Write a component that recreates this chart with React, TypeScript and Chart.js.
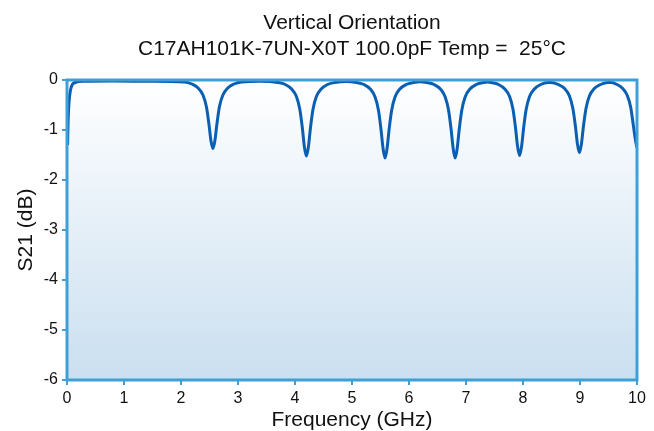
import React, { useEffect, useRef } from "react";
import { Chart, registerables } from "chart.js";

Chart.register(...registerables);

const TITLE_LINES = ["Vertical Orientation", "C17AH101K-7UN-X0T 100.0pF Temp =  25°C"];
const X_TITLE = "Frequency (GHz)";
const Y_TITLE = "S21 (dB)";
const X_TICKS = [0, 1, 2, 3, 4, 5, 6, 7, 8, 9, 10];
const Y_TICKS = [-6, -5, -4, -3, -2, -1, 0];

const freqGHz = [
  0.01, 0.02, 0.035, 0.07, 0.14, 0.3, 0.8, 1.4,
  2.06, 2.19, 2.3, 2.385, 2.445, 2.49, 2.525, 2.56, 2.595, 2.63, 2.675, 2.735, 2.82, 2.93, 3.06,
  3.4,
  3.7, 3.83, 3.94, 4.025, 4.085, 4.13, 4.165, 4.2, 4.235, 4.27, 4.315, 4.375, 4.46, 4.57, 4.7,
  4.9,
  5.08, 5.21, 5.32, 5.405, 5.465, 5.51, 5.545, 5.58, 5.615, 5.65, 5.695, 5.755, 5.84, 5.95, 6.08,
  6.2,
  6.31, 6.44, 6.55, 6.635, 6.695, 6.74, 6.775, 6.81, 6.845, 6.88, 6.925, 6.985, 7.07, 7.18, 7.31,
  7.38,
  7.44, 7.57, 7.68, 7.765, 7.825, 7.87, 7.905, 7.94, 7.975, 8.01, 8.055, 8.115, 8.2, 8.31, 8.44,
  8.49, 8.62, 8.73, 8.815, 8.875, 8.92, 8.955, 8.99, 9.025, 9.06, 9.105, 9.165, 9.25, 9.36, 9.49,
  9.55, 9.65, 9.75, 9.83, 9.89, 9.935, 9.97, 10.0,
];

const s21dB = [
  -1.3, -0.8, -0.45, -0.16, -0.05, -0.025, -0.02, -0.025,
  -0.04, -0.08, -0.16, -0.3, -0.53, -0.88, -1.21, -1.37, -1.21, -0.88, -0.53, -0.3, -0.16, -0.08, -0.04,
  -0.025,
  -0.05, -0.09, -0.18, -0.33, -0.59, -0.97, -1.34, -1.52, -1.34, -0.97, -0.59, -0.33, -0.18, -0.09, -0.05,
  -0.03,
  -0.05, -0.09, -0.18, -0.34, -0.61, -1.0, -1.37, -1.56, -1.37, -1.0, -0.61, -0.34, -0.18, -0.09, -0.05,
  -0.035,
  -0.05, -0.09, -0.18, -0.34, -0.61, -1.0, -1.37, -1.56, -1.37, -1.0, -0.61, -0.34, -0.18, -0.09, -0.05,
  -0.04,
  -0.05, -0.09, -0.18, -0.33, -0.59, -0.97, -1.33, -1.51, -1.33, -0.97, -0.59, -0.33, -0.18, -0.09, -0.05,
  -0.05, -0.09, -0.17, -0.32, -0.57, -0.93, -1.28, -1.45, -1.28, -0.93, -0.57, -0.32, -0.17, -0.09, -0.05,
  -0.05, -0.09, -0.17, -0.31, -0.55, -0.9, -1.18, -1.36,
];

const FONT = "'Liberation Sans', Arial, Helvetica, sans-serif";
const LINE_COLOR = "#0a5fb2";
const FRAME_COLOR = "#3fa0d8";

const plotDecor = {
  id: "plotDecor",
  beforeDatasetsDraw(chart: any) {
    const { ctx, chartArea: a } = chart;
    const g = ctx.createLinearGradient(0, a.top, 0, a.bottom);
    g.addColorStop(0, "#ffffff");
    g.addColorStop(1, "#cadff0");
    ctx.save();
    ctx.fillStyle = g;
    ctx.fillRect(a.left, a.top, a.right - a.left, a.bottom - a.top);
    ctx.restore();
  },
  afterDatasetsDraw(chart: any) {
    const { ctx, chartArea: a } = chart;
    ctx.save();
    ctx.strokeStyle = FRAME_COLOR;
    ctx.lineWidth = 3;
    ctx.strokeRect(a.left, a.top, a.right - a.left, a.bottom - a.top);
    ctx.restore();
  },
  afterDraw(chart: any) {
    const { ctx, chartArea: a } = chart;
    const cx = (a.left + a.right) / 2;
    ctx.save();
    ctx.fillStyle = "#111111";
    ctx.font = `21px ${FONT}`;
    ctx.textAlign = "center";
    ctx.textBaseline = "alphabetic";
    ctx.fillText(TITLE_LINES[0], cx, 29);
    ctx.fillText(TITLE_LINES[1], cx, 55);
    ctx.restore();
  },
};

export default function App() {
  const ref = useRef<HTMLCanvasElement | null>(null);
  useEffect(() => {
    if (!ref.current) return;
    const chart = new Chart(ref.current, {
      type: "scatter",
      data: {
        datasets: [
          {
            data: freqGHz.map((f, i) => ({ x: f, y: s21dB[i] })),
            showLine: true,
            borderColor: LINE_COLOR,
            borderWidth: 3,
            pointRadius: 0,
            cubicInterpolationMode: "monotone",
            fill: false,
          },
        ],
      },
      plugins: [plotDecor],
      options: {
        animation: false,
        responsive: false,
        devicePixelRatio: 1,
        layout: { padding: { top: 80, left: 0, right: 17, bottom: 0 } },
        plugins: { legend: { display: false }, tooltip: { enabled: false }, title: { display: false } },
        scales: {
          x: {
            type: "linear",
            min: 0,
            max: 10,
            afterBuildTicks: (s: any) => {
              s.ticks = X_TICKS.map((v) => ({ value: v }));
            },
            afterFit: (s: any) => {
              s.height = 51;
            },
            grid: { drawOnChartArea: false, drawTicks: true, tickLength: 5, color: FRAME_COLOR, lineWidth: 2 },
            border: { display: false },
            ticks: { color: "#111111", font: { family: FONT, size: 16 }, padding: 4, maxRotation: 0 },
            title: {
              display: true,
              text: X_TITLE,
              color: "#111111",
              font: { family: FONT, size: 21, lineHeight: 1 },
              padding: { top: 0, bottom: 0 },
            },
          },
          y: {
            type: "linear",
            min: -6,
            max: 0,
            afterBuildTicks: (s: any) => {
              s.ticks = Y_TICKS.map((v) => ({ value: v }));
            },
            afterFit: (s: any) => {
              s.width = 67;
            },
            grid: { drawOnChartArea: false, drawTicks: true, tickLength: 5, color: FRAME_COLOR, lineWidth: 2 },
            border: { display: false },
            ticks: { color: "#111111", font: { family: FONT, size: 16 }, padding: 4 },
            title: {
              display: true,
              text: Y_TITLE,
              color: "#111111",
              font: { family: FONT, size: 21, lineHeight: 1 },
              padding: { top: 16, bottom: 0 },
            },
          },
        },
      },
    } as any);
    return () => chart.destroy();
  }, []);
  return (
    <div style={{ position: "absolute", left: 0, top: 0, width: 654, height: 431 }}>
      <canvas ref={ref} width={654} height={431} style={{ width: 654, height: 431, display: "block" }} />
    </div>
  );
}
